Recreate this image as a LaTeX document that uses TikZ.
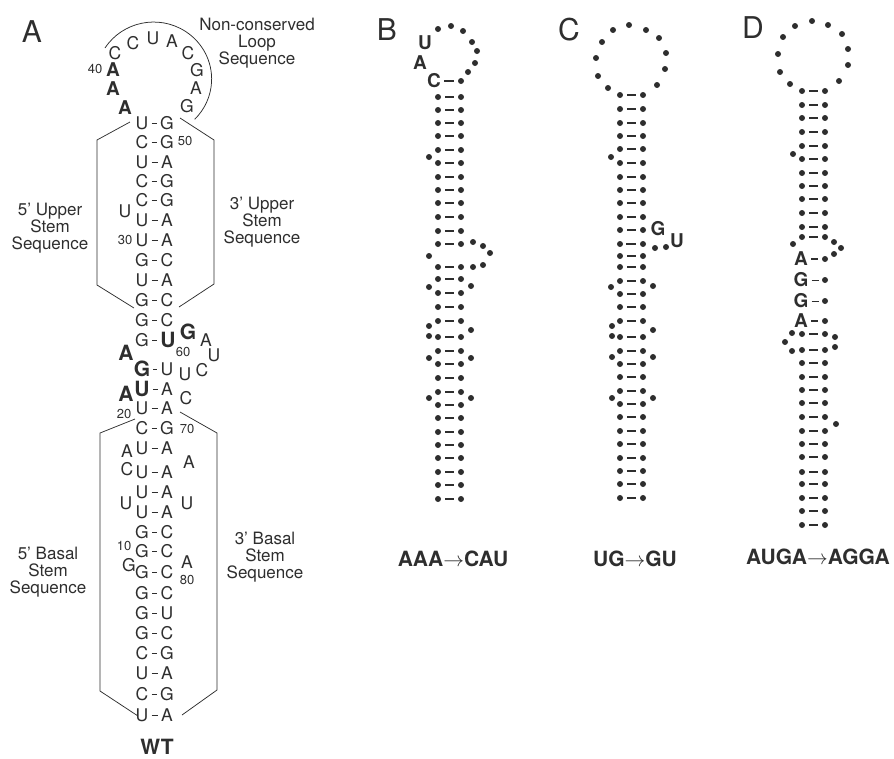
\documentclass[tikz,border=0pt]{standalone}
\usepackage{fontspec}
\setmainfont{TeX Gyre Heros}
\usepackage{tikz}
\usetikzlibrary{positioning}
\definecolor{ink}{HTML}{2E2E2E}
\newcommand{\fsz}[1]{\fontsize{#1}{#1}\selectfont}

\begin{document}
\begin{tikzpicture}[x=1pt,y=-1pt,every node/.style={text=ink,inner sep=0pt}]
\tikzset{
 base/.style={font=\fsz{17.5}},
 hot/.style={font=\fsz{19}\bfseries},
 big/.style={font=\fsz{21}\bfseries},
 num/.style={font=\fsz{13}},
 note/.style={font=\fsz{17},align=center},
 panel/.style={font=\fsz{30}},
 mut/.style={font=\fsz{21}\bfseries},
 nt/.style={circle,fill=ink,minimum size=6pt},
 bpA/.style={draw=ink,line width=1pt,shorten <=3pt,shorten >=3pt},
 bp/.style={draw=ink,line width=1.2pt,shorten <=4pt,shorten >=4pt},
 bpbold/.style={draw=ink,line width=2.8pt,shorten <=3pt,shorten >=4pt},
 frame/.style={draw=ink,line width=0.75pt}
}
\useasboundingbox (0,0) rectangle (894,758);

% ---- A: wild type
\node[panel] (pA) at (32,32) {A};
\foreach \i/\y/\l/\r in {1/123/U/G,2/142/C/G,3/162/U/A,4/181/C/G,5/200/C/G,
  6/220/U/A,7/240/U/A,8/260/G/C,9/280/U/A,10/300/G/C,11/320/G/C,
  15/408/U/A,16/428/C/G,17/448/U/A,18/472/U/A,19/492/U/A,20/512/U/A,
  21/532/G/C,22/551/G/C,23/572/G/C,24/593/G/C,25/613/G/U,26/633/G/C,
  27/653/C/G,28/673/U/A,29/694/C/G,30/715/U/A} {
  \node[base] (al\i) at (142,\y) {\l};
  \node[base] (ar\i) at (167,\y) {\r};
  \draw[bpA] (al\i) -- (ar\i);
}
\node[base] (al12) at (142,340) {G};
\node[big] (ar12) at (168,340) {U};
\node[big] (al13) at (142,369) {G};
\node[base] (ar13) at (167,369) {U};
\node[big] (al14) at (142,389) {U};
\node[base] (ar14) at (167,389) {A};
\foreach \i in {12,13,14} \draw[bpA] (al\i) -- (ar\i);

% loop
\node[hot] (a40) at (113,70) {A};
\node[hot] (a39) at (113,89) {A};
\node[hot] (a38) at (125,108) {A};
\node[num] (n40) at (95,69) {40};
\foreach \x/\y/\b [count=\k] in {115/53/C,133/43/C,153/38/U,172/41/A,188/53/C,
  197/70/G,196/88/A,187/106/G}
  \node[base] (lp\k) at (\x,\y) {\b};
\draw[frame] (105,48) arc[start angle=213,end angle=405,x radius=58,y radius=57];
\node[note] (nloop) at (257,43) {Non-conserved\\Loop\\Sequence};

% bulges and numbers
\node[num] (n50) at (185,141) {50};
\node[base] (u33) at (125,211) {U};
\node[num] (n30) at (125,240) {30};
\node[big] (g61) at (188,332) {G};
\node[base] (a62) at (206,340) {A};
\node[base] (u63) at (214,355) {U};
\node[base] (c64) at (202,370) {C};
\node[base] (u65) at (185,374) {U};
\node[num] (n60) at (183,352) {60};
\node[big] (a24) at (126,353) {A};
\node[big] (a22) at (126,394) {A};
\node[base] (c68) at (186,398) {C};
\node[num] (n20) at (124,414) {20};
\node[num] (n70) at (187,429) {70};
\node[base] (a17) at (127,451) {A};
\node[base] (c16) at (127,469) {C};
\node[base] (a74) at (189,462) {A};
\node[base] (u13) at (126,503) {U};
\node[base] (u77) at (187,503) {U};
\node[num] (n10) at (124,546) {10};
\node[base] (g9) at (129,565) {G};
\node[base] (a80) at (187,562) {A};
\node[num] (n80) at (187,580) {80};

% stem outlines
\draw[frame] (130,122) -- (97,140) -- (97,285) -- (134,308);
\draw[frame] (180,118) -- (214,140) -- (214,284) -- (179,307);
\draw[frame] (135,419) -- (100,433) -- (100,691) -- (138,716);
\draw[frame] (180,412) -- (217,433) -- (217,690) -- (182,715);
\node[note] (n5u) at (50,228) {5' Upper\\Stem\\Sequence};
\node[note] (n3u) at (262,222) {3' Upper\\Stem\\Sequence};
\node[note] (n5b) at (48,572) {5' Basal\\Stem\\Sequence};
\node[note] (n3b) at (265,557) {3' Basal\\Stem\\Sequence};
\node[mut] (wt) at (157,747) {WT};

% ---- B: AAA->CAU
\node[panel] (pB) at (387,30) {B};
\foreach \i/\y in {1/97,2/110,3/123,4/136,5/150,6/163,7/177,8/190,9/203,10/217,
  11/231,12/244,13/267,14/279,15/293,16/307,17/321,18/337,19/351,20/364,
  21/378,22/392,23/405,24/418,25/432,26/445,27/458,28/472,29/485,30/499} {
  \node[nt] (bl\i) at (438,\y) {};
  \node[nt] (br\i) at (461,\y) {};
  \draw[bp] (bl\i) -- (br\i);
}
\node[hot] (bu) at (425,43) {U};
\node[hot] (ba) at (420,63) {A};
\node[hot] (bl0) at (434,81) {C};
\node[nt] (br0) at (461,81) {};
\draw[bpbold] (bl0) -- (br0);
\foreach \x/\y [count=\k] in {438/29,451/26,463/31,472/42,477/51,475/63,468/72,
  429/157,473/242,483/246,490/253,483/265,473/267,429/256,429/287,471/286,
  429/326,429/336,471/330,429/358,471/358,429/398,471/398}
  \node[nt] (bx\k) at (\x,\y) {};
\node[mut] (mB) at (453,559) {AAA$\rightarrow$CAU};

% ---- C: UG->GU
\node[panel] (pC) at (569,30) {C};
\foreach \i/\y in {1/95,2/109,3/123,4/136,5/149,6/163,7/177,8/190,9/203,10/217,
  11/230,12/244,13/256,14/267,15/281,16/294,17/307,18/321,19/337,20/351,
  21/364,22/377,23/391,24/404,25/417,26/431,27/444,28/458,29/471,30/484,31/498} {
  \node[nt] (cl\i) at (620,\y) {};
  \node[nt] (cr\i) at (643,\y) {};
  \draw[bp] (cl\i) -- (cr\i);
}
\draw[bpbold] (cl12) -- (cr12);
\foreach \x/\y [count=\k] in {608/88,598/76,596/58,602/42,613/30,629/25,646/30,
  659/38,666/53,665/69,657/85,611/157,666/247,655/248,611/287,653/286,
  612/326,612/336,653/330,612/357,653/357,612/398,653/398}
  \node[nt] (cx\k) at (\x,\y) {};
\node[hot] (cg) at (658,229) {G};
\node[hot] (cu) at (677,241) {U};
\node[mut] (mC) at (635,559) {UG$\rightarrow$GU};

% ---- D: AUGA->AGGA
\node[panel] (pD) at (753,28) {D};
\foreach \i/\y in {1/91,2/105,3/118,4/132,5/146,6/159,7/173,8/186,9/199,10/213,
  11/227,12/237,17/334,18/350,19/363,20/377,21/390,22/403,23/417,24/431,
  25/444,26/457,27/472,28/484,29/498,30/511,31/525} {
  \node[nt] (dl\i) at (802,\y) {};
  \node[nt] (dr\i) at (825,\y) {};
  \draw[bp] (dl\i) -- (dr\i);
}
\foreach \i/\y/\b in {13/259/A,14/280/G,15/301/G,16/321/A} {
  \node[hot] (dl\i) at (801,\y) {\b};
  \node[nt] (dr\i) at (825,\y) {};
}
\draw[bpbold] (dl13) -- (dr13);
\draw[bpA] (dl14) -- (dr14);
\draw[bpA] (dl15) -- (dr15);
\draw[bpbold] (dl16) -- (dr16);
\foreach \x/\y [count=\k] in {790/84,780/72,778/54,783/37,795/26,812/21,828/25,
  842/34,848/49,848/65,839/81,793/154,793/244,834/242,841/248,834/254,
  792/333,785/342,792/351,835/337,835/347,836/424}
  \node[nt] (dx\k) at (\x,\y) {};
\node[mut] (mD) at (818,557) {AUGA$\rightarrow$AGGA};
\end{tikzpicture}
\end{document}
